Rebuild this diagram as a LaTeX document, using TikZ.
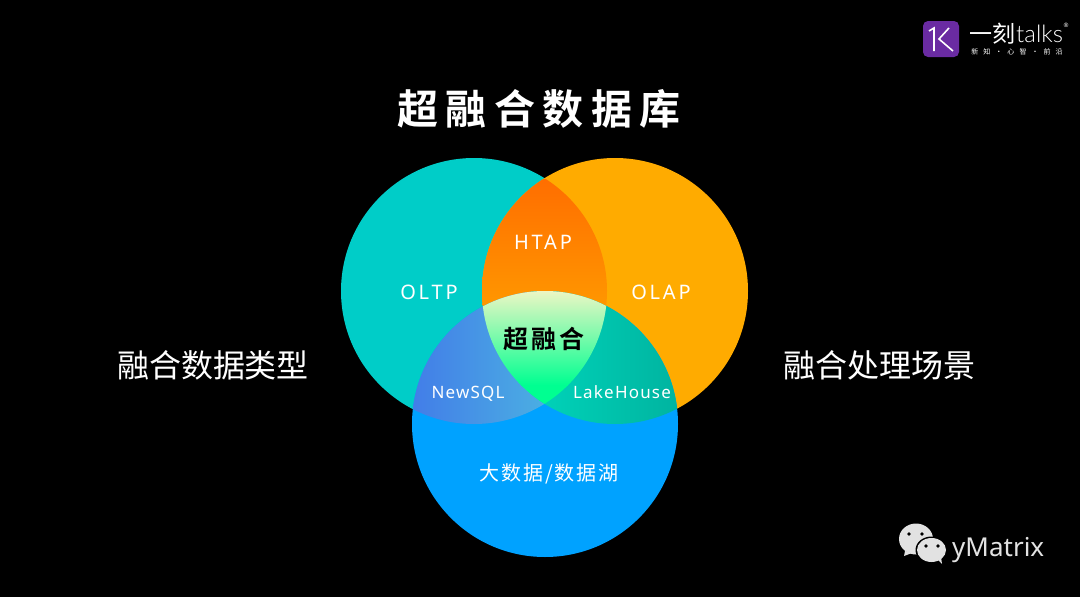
\documentclass[tikz,border=0pt]{standalone}
\usepackage{fontspec}
\usepackage{tikz}
\setmainfont{Noto Sans}
\newfontfamily\cjk{Noto Sans CJK SC}
\newfontfamily\cjkbold{Noto Sans CJK SC Bold}
\newfontfamily\logofont{Lato Light}

\definecolor{bgblack}{HTML}{000000}
\definecolor{tealc}{HTML}{00CDC8}
\definecolor{orangec}{HTML}{FFAB00}
\definecolor{bluec}{HTML}{00A2FF}
\definecolor{logopurple}{HTML}{6A2BA2}
\definecolor{iconc}{HTML}{E2E2E2}

\def\circT{(474,291) circle (133)}
\def\circO{(615,291) circle (133)}
\def\circB{(545,424) circle (133)}

\tikzset{
  label/.style={text=white, inner sep=0pt, font=\fontsize{20}{20}\selectfont\addfontfeature{LetterSpace=14}},
  smalllabel/.style={text=white, inner sep=0pt, anchor=base, font=\fontsize{17}{17}\selectfont\addfontfeature{LetterSpace=7}},
  side/.style={text=white, inner sep=0pt, font=\cjk\fontsize{32}{32}\selectfont},
  bubble/.style={fill=iconc, draw=none},
  eye/.style={fill=black, draw=none}
}

\begin{document}
\begin{tikzpicture}[x=1pt, y=-1pt]
  \useasboundingbox (0,0) rectangle (1080,597);
  \fill[bgblack] (0,0) rectangle (1080,597);

  % Three main circles
  \fill[tealc] \circT;
  \fill[orangec] \circO;
  \fill[bluec] \circB;

  % Overlaps of two circles
  \begin{scope}
    \clip \circT;
    \clip \circO;
    \shade[top color={rgb,255:red,255;green,110;blue,0}, bottom color={rgb,255:red,255;green,155;blue,0}] (480,179) rectangle (610,320);
  \end{scope}
  \begin{scope}
    \clip \circT;
    \clip \circB;
    \shade[left color={rgb,255:red,66;green,125;blue,232}, right color={rgb,255:red,76;green,180;blue,226}] (412,290) rectangle (560,430);
  \end{scope}
  \begin{scope}
    \clip \circO;
    \clip \circB;
    \shade[left color={rgb,255:red,0;green,212;blue,186}, right color={rgb,255:red,0;green,180;blue,160}] (530,290) rectangle (678,430);
  \end{scope}

  % Centre of all three
  \begin{scope}
    \clip \circT;
    \clip \circO;
    \clip \circB;
    \shade[top color={rgb,255:red,236;green,246;blue,196}, middle color={rgb,255:red,165;green,250;blue,170}, bottom color={rgb,255:red,0;green,255;blue,145}] (480,291) rectangle (610,385);
    \fill[color={rgb,255:red,0;green,255;blue,145}] (480,385) rectangle (610,405);
  \end{scope}

  % Texts
  \node[text=white, inner sep=0pt, font=\cjkbold\fontsize{41}{41}\selectfont\addfontfeature{LetterSpace=18}] (title) at (539,109) {超融合数据库};
  \node[side] (left) at (213,365) {融合数据类型};
  \node[side] (right) at (879,365) {融合处理场景};
  \node[label] (OLTP) at (429,292) {OLTP};
  \node[label] (OLAP) at (661,292) {OLAP};
  \node[label] (HTAP) at (543,242) {HTAP};
  \node[smalllabel] (NewSQL) at (468,398) {NewSQL};
  \node[smalllabel] (LakeHouse) at (622,398) {LakeHouse};
  \node[text=black, inner sep=0pt, font=\cjkbold\fontsize{25}{25}\selectfont\addfontfeature{LetterSpace=12}] (super) at (544,339) {超融合};
  \node[text=white, inner sep=0pt, font=\cjk\fontsize{20}{20}\selectfont\addfontfeature{LetterSpace=10}] (lake) at (549,474) {大数据/数据湖};

  % Logo
  \fill[logopurple, rounded corners=5] (923,21) rectangle (959,57);
  \draw[white, line width=1.6] (929,31) -- (934,28) -- (934,51);
  \draw[white, line width=1.6] (949,28) -- (939,39) -- (953,51);
  \node[text=white, inner sep=0pt, anchor=base west, font=\cjk\fontsize{23}{23}\selectfont] (yike) at (969,42) {一刻};
  \node[text=white, inner sep=0pt, anchor=base west, font=\logofont\fontsize{24}{24}\selectfont] (talks) at (1016,42) {talks};
  \node[text=white, inner sep=0pt, font=\fontsize{6}{6}\selectfont] (reg) at (1066,25) {®};
  \node[text=white, inner sep=0pt, font=\cjk\fontsize{7}{7}\selectfont\addfontfeature{LetterSpace=72}] (slogan) at (1017,52) {新知·心智·前沿};

  % WeChat mark
  \fill[bubble] (916,539) ellipse (17 and 15.5);
  \fill[bubble] (905,551) -- (904,556) -- (912,553) -- cycle;
  \fill[black] (931.5,550) ellipse (16 and 13.5);
  \fill[bubble] (931.5,550) ellipse (14.5 and 12);
  \fill[bubble] (938,560) -- (942,564) -- (941,557) -- cycle;
  \foreach \ex/\ey in {909/534, 922/534, 926/546, 938/546}
    \fill[eye] (\ex,\ey) circle (1.8);
  \node[text=iconc, inner sep=0pt, anchor=base west, font=\fontsize{26}{26}\selectfont] (ymatrix) at (952,556) {yMatrix};
\end{tikzpicture}
\end{document}
